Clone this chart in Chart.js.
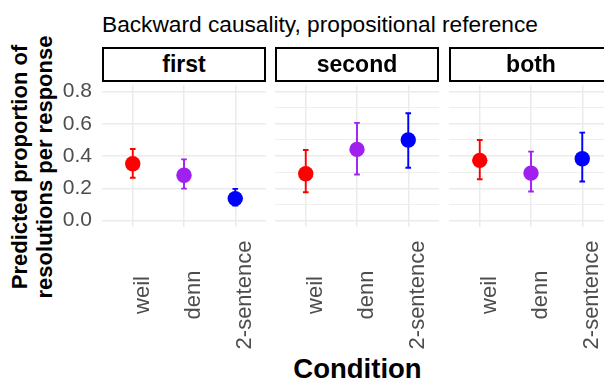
<!DOCTYPE html>
<html><head><meta charset="utf-8">
<script src="https://cdn.jsdelivr.net/npm/chart.js@4"></script>
<style>
html,body{margin:0;padding:0;background:#fff;}
body{width:604px;height:380px;overflow:hidden;position:relative;font-family:"Liberation Sans",Arial,Helvetica,sans-serif;}
canvas.pan{position:absolute;left:0;top:0;}
.strip{position:absolute;top:47px;height:35px;width:164px;box-sizing:border-box;border:2px solid #000;background:#fff;font-weight:bold;font-size:23px;line-height:31px;text-align:center;color:#000;white-space:nowrap;}
.title{position:absolute;left:102px;top:13.1px;font-size:22.7px;line-height:22.7px;white-space:nowrap;color:#000;}
.ytitle{position:absolute;left:-117.6px;top:142px;width:300px;height:50px;font-weight:bold;font-size:22px;line-height:25px;text-align:center;transform:rotate(-90deg);white-space:nowrap;color:#000;}
.xtitle{position:absolute;left:257.5px;top:353.5px;width:200px;font-weight:bold;font-size:27.5px;line-height:30px;text-align:center;white-space:nowrap;color:#000;}
</style></head><body>
<div class="title">Backward causality, propositional reference</div>
<div class="ytitle">Predicted proportion of<br>resolutions per response</div>
<div class="xtitle">Condition</div>
<canvas class="pan" id="c1" width="640" height="380"></canvas>
<canvas class="pan" id="c2" width="640" height="380"></canvas>
<canvas class="pan" id="c3" width="640" height="380"></canvas>
<div class="strip" style="left:102px">first</div>
<div class="strip" style="left:275px">second</div>
<div class="strip" style="left:449px">both</div>
<script>
// ---- data ----
const categories = ['weil', 'denn', '2-sentence'];
const panels = ['first', 'second', 'both'];
const colors = ['#FF0000', '#A020F0', '#0000FF'];
const estFirst  = [0.352, 0.281, 0.136];
const lowFirst  = [0.265, 0.198, 0.093];
const highFirst = [0.443, 0.379, 0.196];
const estSecond  = [0.290, 0.441, 0.499];
const lowSecond  = [0.175, 0.285, 0.327];
const highSecond = [0.437, 0.605, 0.665];
const estBoth  = [0.373, 0.294, 0.383];
const lowBoth  = [0.256, 0.180, 0.242];
const highBoth = [0.499, 0.427, 0.545];
const yTicks = [0, 0.2, 0.4, 0.6, 0.8];

const panelData = [
  {est: estFirst, low: lowFirst, high: highFirst},
  {est: estSecond, low: lowSecond, high: highSecond},
  {est: estBoth, low: lowBoth, high: highBoth}
];
const panelLeft = [102, 275, 449];
const panelWidth = 164;
const CW = 640, CH = 380, TOP = 85, BOTTOM = 227;

const errorBars = {
  id: 'errorBars',
  beforeDatasetsDraw(chart, args, opts) {
    const xs = chart.scales.x, ys = chart.scales.y, ctx = chart.ctx;
    const d = opts.data;
    ctx.save();
    ctx.lineWidth = 1.9;
    ctx.lineCap = 'butt';
    d.est.forEach((v, i) => {
      const x = xs.getPixelForValue(i + 1);
      const xl = xs.getPixelForValue(i + 1 - 0.055);
      const xr = xs.getPixelForValue(i + 1 + 0.055);
      const yl = ys.getPixelForValue(d.low[i]);
      const yh = ys.getPixelForValue(d.high[i]);
      ctx.strokeStyle = colors[i];
      ctx.beginPath();
      ctx.moveTo(x, yl); ctx.lineTo(x, yh);
      ctx.moveTo(xl, yl); ctx.lineTo(xr, yl);
      ctx.moveTo(xl, yh); ctx.lineTo(xr, yh);
      ctx.stroke();
    });
    ctx.restore();
  }
};

const xLabels = {
  id: 'xLabels',
  afterDraw(chart) {
    const xs = chart.scales.x, ctx = chart.ctx;
    ctx.save();
    ctx.font = '22px "Liberation Sans", Arial, sans-serif';
    ctx.fillStyle = '#4D4D4D';
    ctx.textAlign = 'center';
    ctx.textBaseline = 'alphabetic';
    xs.ticks.forEach(t => {
      const x = xs.getPixelForValue(t.value);
      ctx.save();
      ctx.translate(x + 16, 295);
      ctx.rotate(-Math.PI / 2);
      ctx.fillText(categories[Math.round(t.value) - 1], 0, 0);
      ctx.restore();
    });
    ctx.restore();
  }
};

function isMajor(v) { return yTicks.some(t => Math.abs(t - v) < 1e-6); }

panels.forEach((p, k) => {
  const d = panelData[k];
  const first = k === 0;
  new Chart(document.getElementById('c' + (k + 1)), {
    type: 'scatter',
    data: {
      datasets: [{
        label: p,
        data: d.est.map((v, i) => ({x: i + 1, y: v})),
        pointRadius: 7.7,
        pointBorderWidth: 0,
        pointBackgroundColor: colors,
        pointBorderColor: colors
      }]
    },
    options: {
      responsive: false,
      animation: false,
      events: [],
      layout: {padding: {left: first ? 0 : panelLeft[k], right: CW - panelLeft[k] - panelWidth, top: TOP, bottom: CH - BOTTOM}},
      plugins: {legend: {display: false}, tooltip: {enabled: false}, errorBars: {data: d}},
      scales: {
        x: {
          type: 'linear', min: 0.4, max: 3.6,
          afterBuildTicks: s => { s.ticks = categories.map((c, i) => ({value: i + 1})); },
          afterFit: s => { s.height = 0; },
          ticks: {display: false},
          grid: {color: '#EBEBEB', lineWidth: 1.5, drawTicks: false},
          border: {display: false}
        },
        y: {
          type: 'linear', min: -0.04, max: 0.84,
          afterFit: s => { s.width = first ? 102 : 0; },
          ticks: {
            display: first, stepSize: 0.1, includeBounds: false, padding: 10,
            color: '#4D4D4D', font: {family: '"Liberation Sans", Arial, sans-serif', size: 21},
            callback: v => isMajor(v) ? v.toFixed(1) : ''
          },
          grid: {
            color: '#EBEBEB', drawTicks: false,
            lineWidth: c => isMajor(c.tick.value) ? 1.5 : 0.8
          },
          border: {display: false}
        }
      }
    },
    plugins: [errorBars, xLabels]
  });
});
</script>
</body></html>
